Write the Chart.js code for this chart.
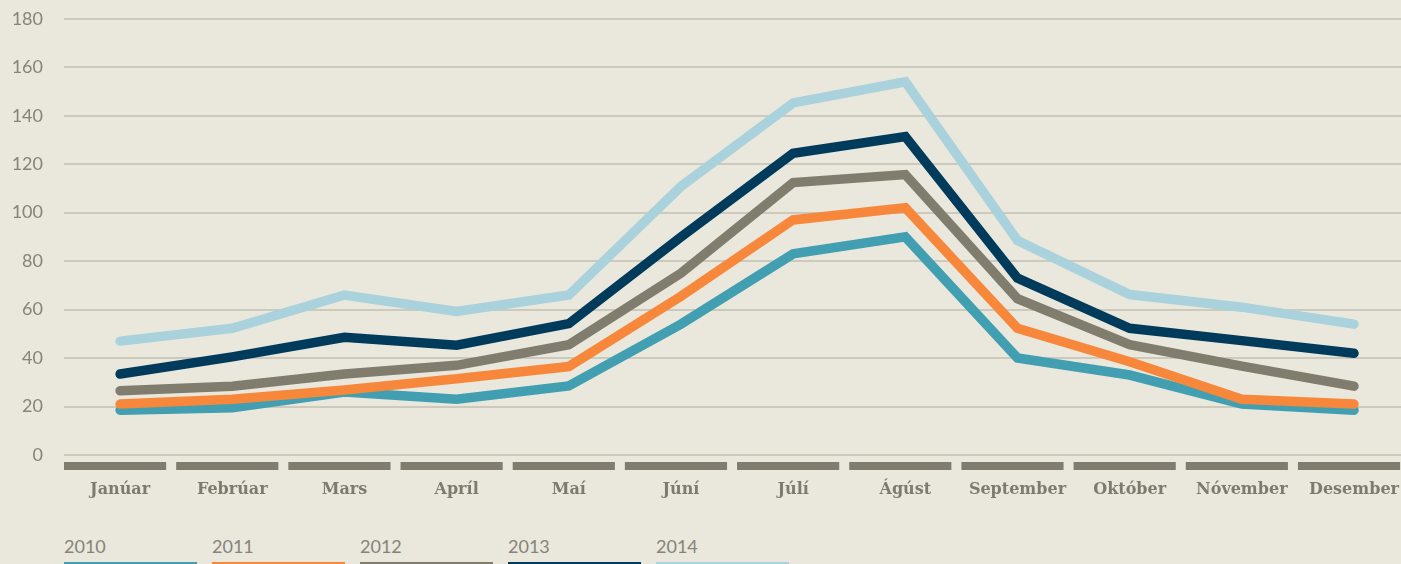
<!DOCTYPE html>
<html>
<head>
<meta charset="utf-8">
<script src="https://cdn.jsdelivr.net/npm/chart.js@4.4.0/dist/chart.umd.min.js"></script>
<style>
  html, body { margin: 0; padding: 0; background: #EAE7DD; overflow: hidden; width: 1401px; height: 564px; }
  #wrap { position: absolute; left: 0; top: -13px; width: 1416px; height: 523px; }
  #legend { position: absolute; left: 64px; top: 536px; display: flex; }
  .item { width: 133px; margin-right: 15px; font: 400 18px Lato, sans-serif; color: #86837A; }
  .item span { display: block; height: 20px; line-height: 20px; }
  .item i { display: block; height: 4px; margin-top: 6px; }
</style>
</head>
<body>
<div id="wrap"><canvas id="chart" width="1416" height="523"></canvas></div>
<div id="legend"></div>
<script>
  const months = ['Janúar', 'Febrúar', 'Mars', 'Apríl', 'Maí', 'Júní', 'Júlí', 'Ágúst', 'September', 'Október', 'Nóvember', 'Desember'];
  const years = ['2010', '2011', '2012', '2013', '2014'];
  const colors = ['#419FB1', '#F7883B', '#807D6E', '#003B5C', '#AAD2DC'];

  const v2010 = [18.5, 19.5, 26, 23, 28.5, 54, 83, 90, 40, 33, 21, 18.5];
  const v2011 = [21, 23, 26.8, 31.5, 36.5, 65.5, 97, 102, 52.3, 38.5, 23, 21];
  const v2012 = [26.5, 28.4, 33.4, 37, 45.5, 75, 112.4, 115.7, 64.5, 45.5, 36.7, 28.4];
  const v2013 = [33.4, 40.5, 48.6, 45.3, 54.2, 90, 124.5, 131.4, 73, 52.3, 47.2, 42];
  const v2014 = [47, 52.3, 66, 59.2, 66, 110.8, 145.3, 154, 88.5, 66.2, 61, 54];
  const series = [v2010, v2011, v2012, v2013, v2014];

  const yTicks = { min: 0, max: 180, step: 20 };

  // grey segments under the x axis, one per month
  const axisBars = {
    id: 'axisBars',
    afterDraw(chart) {
      const { ctx, chartArea, scales: { x } } = chart;
      const w = (chartArea.right - chartArea.left) / months.length;
      ctx.save();
      ctx.fillStyle = '#807D6E';
      months.forEach((m, i) => {
        const left = x.getPixelForValue(i) - w / 2;
        ctx.fillRect(left, chartArea.bottom + 7, w - 10, 8);
      });
      ctx.restore();
    }
  };

  new Chart(document.getElementById('chart'), {
    type: 'line',
    data: {
      labels: months,
      datasets: series.map((d, i) => ({
        label: years[i], data: d, borderColor: colors[i], backgroundColor: colors[i],
        borderWidth: 9.5, borderCapStyle: 'round', borderJoinStyle: 'miter',
        pointRadius: 0, tension: 0, order: 4 - i, fill: false
      }))
    },
    options: {
      responsive: false, animation: false, devicePixelRatio: 1,
      layout: { padding: { top: 6, right: 0, left: 0, bottom: 0 } },
      plugins: { legend: { display: false }, tooltip: { enabled: false } },
      scales: {
        x: {
          offset: true,
          grid: { display: false }, border: { display: false },
          ticks: { color: '#7E7B6E', font: { family: 'DejaVu Serif', weight: 'bold', size: 16 }, padding: 17, maxRotation: 0, autoSkip: false },
          afterFit(s) { s.height = 55; }
        },
        y: {
          min: yTicks.min, max: yTicks.max,
          grid: { color: '#CCC9BD', lineWidth: 2, drawTicks: false },
          border: { display: false },
          ticks: { stepSize: yTicks.step, color: '#86837A', font: { family: 'Lato', weight: 400, size: 18 }, padding: 21 },
          afterFit(s) { s.width = 64; }
        }
      }
    },
    plugins: [axisBars]
  });

  const legend = document.getElementById('legend');
  years.forEach((y, i) => {
    const el = document.createElement('div');
    el.className = 'item';
    el.innerHTML = `<span>${y}</span><i style="background:${colors[i]}"></i>`;
    legend.appendChild(el);
  });
</script>
</body>
</html>
